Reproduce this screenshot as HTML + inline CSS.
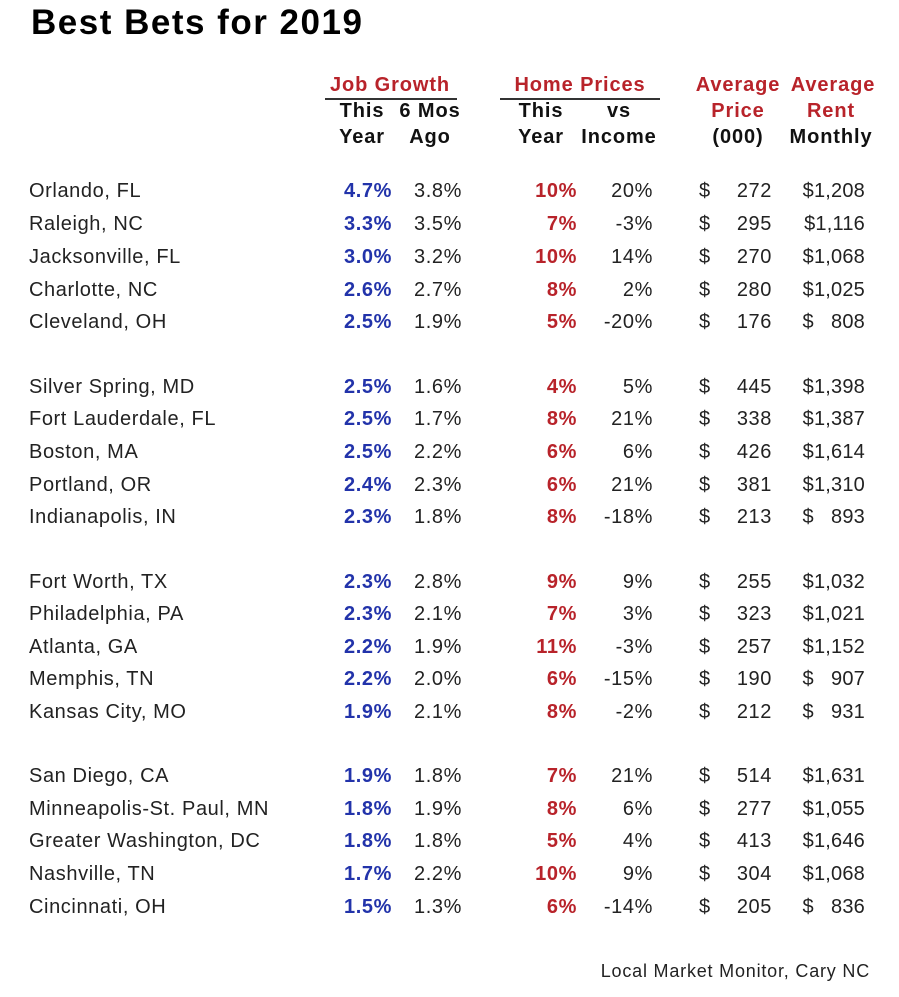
<!DOCTYPE html>
<html><head><meta charset="utf-8"><style>
body{margin:0;width:899px;height:997px;background:#fff;position:relative;font-family:"Liberation Sans",Arial,sans-serif;color:#222;overflow:hidden}
.a{position:absolute;white-space:nowrap}
.t{left:31px;top:3px;font-size:35px;font-weight:bold;color:#000;letter-spacing:1.5px}
.h{font-size:20px;font-weight:bold;color:#111;text-align:center;width:160px;margin-left:-80px;letter-spacing:0.9px}
.r{color:#b8232a}
.row{position:absolute;left:0;width:899px;height:24px;font-size:20px;letter-spacing:0.6px}
.row span{position:absolute;top:0;white-space:nowrap}
.c{left:29px}
.j{right:507px;color:#2233aa;font-weight:bold}
.s{right:437px}
.hp{right:322px;color:#b8232a;font-weight:bold}
.v{right:246px}
.d{left:699px}
.p{right:127px}
.m{right:34px;letter-spacing:0.2px}
.ln{position:absolute;height:2px;background:#333}
</style></head><body>
<div class="a t">Best Bets for 2019</div>
<div class="a h r" style="left:390px;top:74px">Job Growth</div>
<div class="ln" style="left:325px;width:132px;top:98px"></div>
<div class="a h r" style="left:580px;top:74px">Home Prices</div>
<div class="ln" style="left:500px;width:160px;top:98px"></div>
<div class="a h r" style="left:738px;top:74px">Average</div>
<div class="a h r" style="left:833px;top:74px">Average</div>
<div class="a h" style="left:362px;top:100px">This</div>
<div class="a h" style="left:362px;top:126px">Year</div>
<div class="a h" style="left:430px;top:100px">6 Mos</div>
<div class="a h" style="left:430px;top:126px">Ago</div>
<div class="a h" style="left:541px;top:100px">This</div>
<div class="a h" style="left:541px;top:126px">Year</div>
<div class="a h" style="left:619px;top:100px">vs</div>
<div class="a h" style="left:619px;top:126px">Income</div>
<div class="a h r" style="left:738px;top:100px">Price</div>
<div class="a h" style="left:738px;top:126px">(000)</div>
<div class="a h r" style="left:831px;top:100px">Rent</div>
<div class="a h" style="left:831px;top:126px">Monthly</div>

<div class="row" style="top:180px"><span class="c">Orlando, FL</span><span class="j">4.7%</span><span class="s">3.8%</span><span class="hp">10%</span><span class="v">20%</span><span class="d">$</span><span class="p">272</span><span class="m">$1,208</span></div>
<div class="row" style="top:213px"><span class="c">Raleigh, NC</span><span class="j">3.3%</span><span class="s">3.5%</span><span class="hp">7%</span><span class="v">-3%</span><span class="d">$</span><span class="p">295</span><span class="m">$1,116</span></div>
<div class="row" style="top:246px"><span class="c">Jacksonville, FL</span><span class="j">3.0%</span><span class="s">3.2%</span><span class="hp">10%</span><span class="v">14%</span><span class="d">$</span><span class="p">270</span><span class="m">$1,068</span></div>
<div class="row" style="top:279px"><span class="c">Charlotte, NC</span><span class="j">2.6%</span><span class="s">2.7%</span><span class="hp">8%</span><span class="v">2%</span><span class="d">$</span><span class="p">280</span><span class="m">$1,025</span></div>
<div class="row" style="top:311px"><span class="c">Cleveland, OH</span><span class="j">2.5%</span><span class="s">1.9%</span><span class="hp">5%</span><span class="v">-20%</span><span class="d">$</span><span class="p">176</span><span class="m">$&nbsp;&nbsp;&nbsp;808</span></div>

<div class="row" style="top:376px"><span class="c">Silver Spring, MD</span><span class="j">2.5%</span><span class="s">1.6%</span><span class="hp">4%</span><span class="v">5%</span><span class="d">$</span><span class="p">445</span><span class="m">$1,398</span></div>
<div class="row" style="top:408px"><span class="c">Fort Lauderdale, FL</span><span class="j">2.5%</span><span class="s">1.7%</span><span class="hp">8%</span><span class="v">21%</span><span class="d">$</span><span class="p">338</span><span class="m">$1,387</span></div>
<div class="row" style="top:441px"><span class="c">Boston, MA</span><span class="j">2.5%</span><span class="s">2.2%</span><span class="hp">6%</span><span class="v">6%</span><span class="d">$</span><span class="p">426</span><span class="m">$1,614</span></div>
<div class="row" style="top:474px"><span class="c">Portland, OR</span><span class="j">2.4%</span><span class="s">2.3%</span><span class="hp">6%</span><span class="v">21%</span><span class="d">$</span><span class="p">381</span><span class="m">$1,310</span></div>
<div class="row" style="top:506px"><span class="c">Indianapolis, IN</span><span class="j">2.3%</span><span class="s">1.8%</span><span class="hp">8%</span><span class="v">-18%</span><span class="d">$</span><span class="p">213</span><span class="m">$&nbsp;&nbsp;&nbsp;893</span></div>

<div class="row" style="top:571px"><span class="c">Fort Worth, TX</span><span class="j">2.3%</span><span class="s">2.8%</span><span class="hp">9%</span><span class="v">9%</span><span class="d">$</span><span class="p">255</span><span class="m">$1,032</span></div>
<div class="row" style="top:603px"><span class="c">Philadelphia, PA</span><span class="j">2.3%</span><span class="s">2.1%</span><span class="hp">7%</span><span class="v">3%</span><span class="d">$</span><span class="p">323</span><span class="m">$1,021</span></div>
<div class="row" style="top:636px"><span class="c">Atlanta, GA</span><span class="j">2.2%</span><span class="s">1.9%</span><span class="hp">11%</span><span class="v">-3%</span><span class="d">$</span><span class="p">257</span><span class="m">$1,152</span></div>
<div class="row" style="top:668px"><span class="c">Memphis, TN</span><span class="j">2.2%</span><span class="s">2.0%</span><span class="hp">6%</span><span class="v">-15%</span><span class="d">$</span><span class="p">190</span><span class="m">$&nbsp;&nbsp;&nbsp;907</span></div>
<div class="row" style="top:701px"><span class="c">Kansas City, MO</span><span class="j">1.9%</span><span class="s">2.1%</span><span class="hp">8%</span><span class="v">-2%</span><span class="d">$</span><span class="p">212</span><span class="m">$&nbsp;&nbsp;&nbsp;931</span></div>

<div class="row" style="top:765px"><span class="c">San Diego, CA</span><span class="j">1.9%</span><span class="s">1.8%</span><span class="hp">7%</span><span class="v">21%</span><span class="d">$</span><span class="p">514</span><span class="m">$1,631</span></div>
<div class="row" style="top:798px"><span class="c">Minneapolis-St. Paul, MN</span><span class="j">1.8%</span><span class="s">1.9%</span><span class="hp">8%</span><span class="v">6%</span><span class="d">$</span><span class="p">277</span><span class="m">$1,055</span></div>
<div class="row" style="top:830px"><span class="c">Greater Washington, DC</span><span class="j">1.8%</span><span class="s">1.8%</span><span class="hp">5%</span><span class="v">4%</span><span class="d">$</span><span class="p">413</span><span class="m">$1,646</span></div>
<div class="row" style="top:863px"><span class="c">Nashville, TN</span><span class="j">1.7%</span><span class="s">2.2%</span><span class="hp">10%</span><span class="v">9%</span><span class="d">$</span><span class="p">304</span><span class="m">$1,068</span></div>
<div class="row" style="top:896px"><span class="c">Cincinnati, OH</span><span class="j">1.5%</span><span class="s">1.3%</span><span class="hp">6%</span><span class="v">-14%</span><span class="d">$</span><span class="p">205</span><span class="m">$&nbsp;&nbsp;&nbsp;836</span></div>

<div class="a" style="right:29px;top:961px;font-size:18px;color:#222;letter-spacing:0.8px">Local Market Monitor, Cary NC</div>
</body></html>
